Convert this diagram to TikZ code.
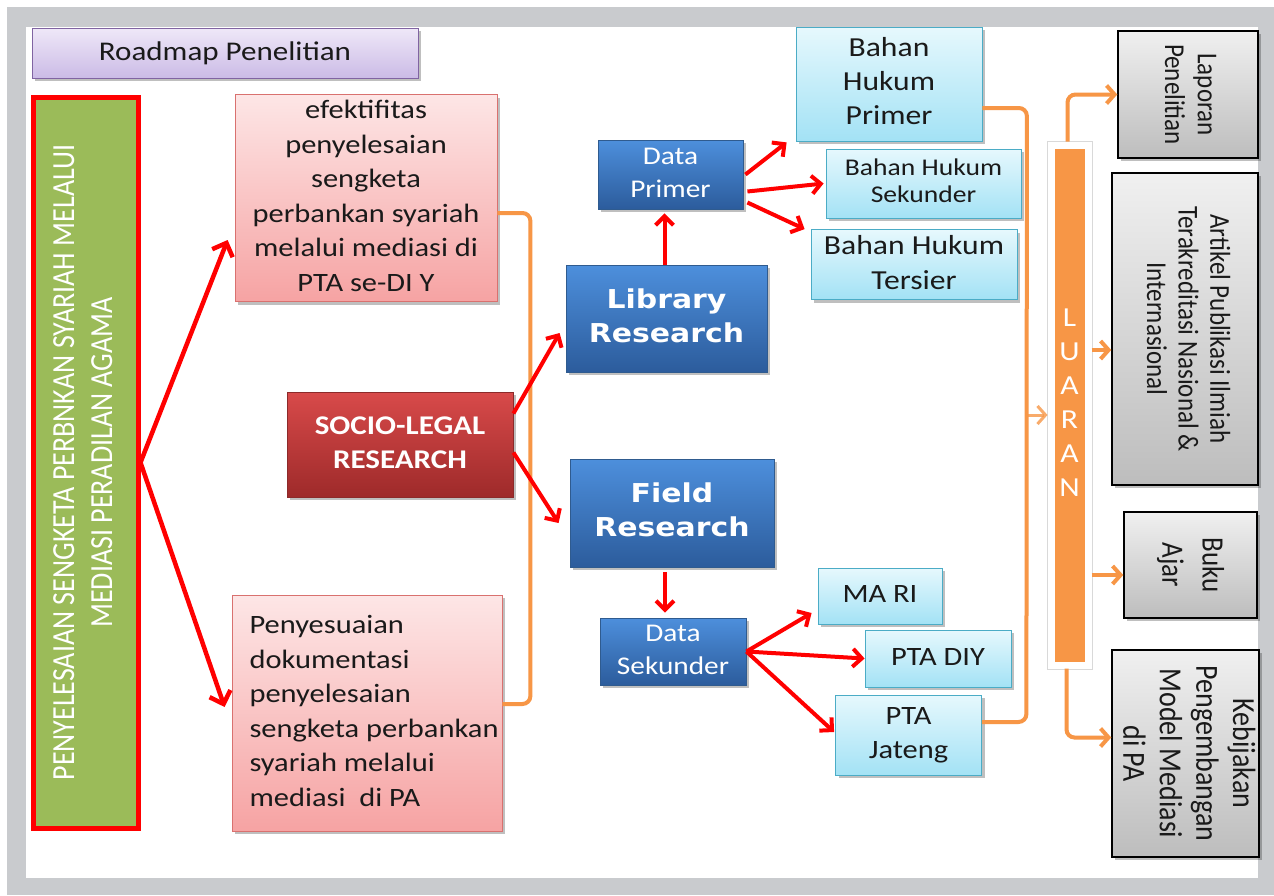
\documentclass[tikz,border=0pt]{standalone}
\usepackage{fontspec}
\setmainfont{Carlito}
\newfontfamily\vfont{DejaVu Sans}
\usepackage{graphicx}
\usetikzlibrary{arrows.meta,calc,shadows}
\definecolor{FrameGray}{HTML}{C9CBCE}
\definecolor{TitleTop}{HTML}{EFE8F8}
\definecolor{TitleBot}{HTML}{CBBBE6}
\definecolor{TitleBorder}{HTML}{8064A2}
\definecolor{PinkTop}{HTML}{FDE6E6}
\definecolor{PinkBot}{HTML}{F6A3A3}
\definecolor{PinkBorder}{HTML}{D9716F}
\definecolor{SocTop}{HTML}{D84A4A}
\definecolor{SocBot}{HTML}{9E2A2A}
\definecolor{SocBorder}{HTML}{8C2A2A}
\definecolor{BlueTop}{HTML}{4D8FDC}
\definecolor{BlueBot}{HTML}{2C5C9C}
\definecolor{BlueBorder}{HTML}{2F5B8F}
\definecolor{LBTop}{HTML}{E6F8FD}
\definecolor{LBBot}{HTML}{A3E2F5}
\definecolor{LBBorder}{HTML}{4BACC6}
\definecolor{GrayTop}{HTML}{F0F0F0}
\definecolor{GrayBot}{HTML}{BDBDBD}
\definecolor{GreenFill}{HTML}{9BBB59}
\definecolor{OrangeC}{HTML}{F79646}
\definecolor{ArrowRed}{HTML}{FF0000}
\definecolor{TextDark}{HTML}{1A1A1A}
\newcommand{\hstr}[1]{\scalebox{1.15}[1]{#1}}
\newcommand{\ctab}[1]{\hstr{\begin{tabular}{@{}c@{}}#1\end{tabular}}}
\newcommand{\ltab}[1]{\hstr{\begin{tabular}{@{}l@{}}#1\end{tabular}}}
\newcommand{\rdown}[1]{\scalebox{1.15}[1]{\rotatebox{-90}{\begin{tabular}{@{}c@{}}#1\end{tabular}}}}
\newcommand{\rup}[1]{\scalebox{1.15}[1]{\rotatebox{90}{\begin{tabular}{@{}c@{}}#1\end{tabular}}}}
\begin{document}
\begin{tikzpicture}[x=1pt,y=-1pt,
  box/.style={rectangle, inner sep=0pt, line width=0.8pt, text=TextDark},
  myshadow/.style={drop shadow={shadow xshift=3pt,shadow yshift=-3pt,opacity=0.25,fill=black}},
  titlebox/.style={box, myshadow, draw=TitleBorder, top color=TitleTop, bottom color=TitleBot, font=\fontsize{27}{30}\selectfont},
  greenbox/.style={box, myshadow, draw=ArrowRed, line width=5pt, fill=GreenFill, text=white, font=\fontsize{28}{33}\selectfont},
  pinkbox/.style={box, myshadow, draw=PinkBorder, top color=PinkTop, bottom color=PinkBot, font=\fontsize{26.5}{34.5}\selectfont},
  socbox/.style={box, myshadow, draw=SocBorder, top color=SocTop, bottom color=SocBot, text=white, font=\bfseries\fontsize{27}{34}\selectfont},
  bluebox/.style={box, myshadow, draw=BlueBorder, top color=BlueTop, bottom color=BlueBot, text=white},
  lbbox/.style={box, myshadow, draw=LBBorder, top color=LBTop, bottom color=LBBot},
  graybox/.style={box, myshadow, draw=black, line width=1.5pt, top color=GrayTop, bottom color=GrayBot},
  luaranbox/.style={box, fill=OrangeC, draw=white, line width=7pt, text=white, preaction={draw=black!15, line width=9pt}, font=\fontsize{27.5}{34}\selectfont},
  redarrow/.style={draw=ArrowRed, line width=4pt, -{Straight Barb[length=9pt,width=18pt]}},
  bigred/.style={draw=ArrowRed, line width=4.5pt, -{Straight Barb[length=11pt,width=22pt]}},
  orangeline/.style={draw=OrangeC, line width=4pt, rounded corners=8pt},
  orangearrow/.style={orangeline, -{Straight Barb[length=8pt,width=18pt]}}
]
\useasboundingbox (0,0) rectangle (1274,895);
\fill[white] (0,0) rectangle (1274,895);
\fill[FrameGray] (7,7) rectangle (1274,895);
\fill[white] (26,27) rectangle (1258,878);

% title
\node[titlebox, minimum width=386pt, minimum height=50pt] (title) at (225,53) {\hstr{Roadmap Penelitian}};

% green
\node[greenbox, minimum width=105pt, minimum height=731pt] (green) at (85.5,462.5)
  {\rup{PENYELESAIAN SENGKETA PERBNKAN SYARIAH MELALUI\\MEDIASI PERADILAN AGAMA}};

% pink
\node[pinkbox, minimum width=262pt, minimum height=202pt] (p1) at (366,198)
  {\ctab{efektifitas\\penyelesaian\\sengketa\\perbankan syariah\\melalui mediasi di\\PTA se-DI Y}};
\node[pinkbox, minimum width=270pt, minimum height=236pt] (p2) at (367,713)
  {\hspace*{14pt}\ltab{Penyesuaian\\dokumentasi\\penyelesaian\\sengketa perbankan\\syariah melalui\\mediasi\ \ di PA}};

% socio-legal
\node[socbox, minimum width=226pt, minimum height=105pt] (soc) at (400,444.5)
  {\ctab{SOCIO-LEGAL\\RESEARCH}};

% blue
\node[bluebox, font=\vfont\bfseries\fontsize{26}{34}\selectfont, minimum width=201pt, minimum height=107pt] (lib) at (666.5,318.5)
  {\ctab{Library\\Research}};
\node[bluebox, font=\vfont\bfseries\fontsize{26}{34}\selectfont, minimum width=204pt, minimum height=108pt] (field) at (672,513)
  {\ctab{Field\\Research}};
\node[bluebox, font=\fontsize{25.5}{33}\selectfont, minimum width=145pt, minimum height=69pt] (dp) at (670.5,174.5)
  {\ctab{Data\\Primer}};
\node[bluebox, font=\fontsize{25.5}{33}\selectfont, minimum width=146pt, minimum height=67pt] (ds) at (673,651.5)
  {\ctab{Data\\Sekunder}};

% light blue
\node[lbbox, font=\fontsize{27.5}{34}\selectfont, minimum width=186pt, minimum height=114pt] (bhp) at (889,84)
  {\ctab{Bahan\\Hukum\\Primer}};
\node[lbbox, font=\fontsize{24}{27}\selectfont, minimum width=195pt, minimum height=69pt] (bhs) at (923.5,183.5)
  {\ctab{Bahan Hukum\\Sekunder}};
\node[lbbox, font=\fontsize{27.5}{35}\selectfont, minimum width=206pt, minimum height=69pt] (bht) at (914,264.5)
  {\ctab{Bahan Hukum\\Tersier}};
\node[lbbox, font=\fontsize{26.5}{34}\selectfont, minimum width=124pt, minimum height=56pt] (mari) at (880,596)
  {\ctab{MA RI}};
\node[lbbox, font=\fontsize{26.5}{34}\selectfont, minimum width=146pt, minimum height=57pt] (ptadiy) at (938,658.5)
  {\ctab{PTA DIY}};
\node[lbbox, font=\fontsize{26.5}{34}\selectfont, minimum width=146pt, minimum height=80pt] (ptaj) at (908.5,735)
  {\ctab{PTA\\Jateng}};

% luaran
\node[luaranbox, minimum width=37pt, minimum height=520pt] (luaran) at (1069.5,405)
  {\ctab{L\\U\\A\\R\\A\\N}};

% outputs
\node[graybox, font=\fontsize{25}{28.5}\selectfont, minimum width=140pt, minimum height=127pt] (lap) at (1188,94.5)
  {\rdown{Laporan\\Penelitian}};
\node[graybox, font=\fontsize{25}{27.5}\selectfont, minimum width=146pt, minimum height=312pt] (art) at (1185,329)
  {\rdown{Artikel Publikasi Ilmiah\\Terakreditasi Nasional \&\\Internasional}};
\node[graybox, font=\fontsize{27}{35}\selectfont, minimum width=133pt, minimum height=106pt] (buku) at (1190.5,565)
  {\rdown{Buku\\Ajar}};
\node[graybox, font=\fontsize{28}{31.8}\selectfont, minimum width=147pt, minimum height=207pt] (keb) at (1185.5,753.5)
  {\rdown{Kebijakan\\Pengembangan\\Model Mediasi\\di PA}};

% orange connectors
\draw[orangeline] ($(p1.east)+(0,15)$) -- ($(p1.east)+(33,15)$) -- ($(p2.east)+(28,-9)$) -- ($(p2.east)+(0,-9)$);
\draw[orangeline] ($(bhp.east)+(0,24)$) -- ($(bhp.east)+(44.5,24)$) -- ($(ptaj.east)+(44.5,-13)$) -- ($(ptaj.east)+(0,-13)$);
\coordinate (rb) at (1026,415);
\draw[orangearrow, line width=3pt, draw opacity=0.8] (rb) -- (rb -| luaran.west);
\draw[orangearrow] ($(luaran.north)+(-2,0)$) |- (lap.west);
\draw[orangearrow] ($(luaran.east)+(0,-55)$) -- ($(art.west)+(0,21)$);
\draw[orangearrow] ($(luaran.east)+(0,170)$) -- ($(buku.west)+(0,10)$);
\draw[orangearrow] ($(luaran.south)+(-3,0)$) |- ($(keb.west)+(0,-16)$);

% red arrows
\draw[bigred] (green.east) -- ($(p1.west)+(-7,42)$);
\draw[bigred] (green.east) -- ($(p2.west)+(-7,-6)$);
\draw[redarrow] ($(soc.east)+(0,-31)$) -- ($(lib.west)+(-6,14.5)$);
\draw[redarrow] ($(soc.east)+(0,8)$) -- ($(field.west)+(-11,10)$);
\draw[redarrow] ($(lib.north)+(-2,0)$) -- ($(dp.south)+(-6,4)$);
\draw[redarrow] ($(dp.east)+(2,0)$) -- ($(bhp.south west)+(-9,1)$);
\draw[redarrow] ($(dp.east)+(4,17)$) -- ($(bhs.west)+(-2,0)$);
\draw[redarrow] ($(dp.east)+(4,28)$) -- ($(bht.north west)+(-6,0)$);
\draw[redarrow] ($(field.south)+(-7,5)$) -- ($(ds.north)+(-8,-5)$);
\draw[redarrow] (ds.east) -- ($(mari.west)+(-6,17)$);
\draw[redarrow] (ds.east) -- (ptadiy.west);
\draw[redarrow] (ds.east) -- ($(ptaj.west)+(-1,-3)$);
\end{tikzpicture}
\end{document}
